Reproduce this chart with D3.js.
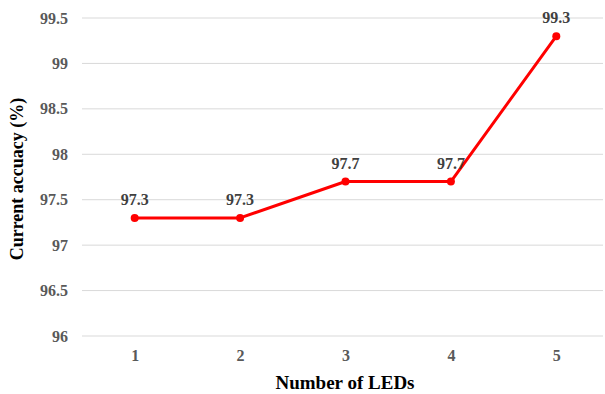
<!DOCTYPE html>
<html><head><meta charset="utf-8">
<script src="https://cdn.jsdelivr.net/npm/d3@7"></script>
<style>body{margin:0;background:#fff}svg{display:block}text{font-family:"Liberation Serif","Times New Roman",serif;font-weight:bold}</style>
</head><body><svg id="c" width="605" height="394"></svg>
<script>
const categories = ["1","2","3","4","5"];
const accuracy = [97.3, 97.3, 97.7, 97.7, 99.3];
const yTicks = [96, 96.5, 97, 97.5, 98, 98.5, 99, 99.5];
const yTickLabels = ["96","96.5","97","97.5","98","98.5","99","99.5"];

(function(){
const svg = d3.select("#c");
const mL = 82, mR = 609, mT = 18, mB = 336;
const x = d3.scalePoint().domain(categories).range([mL, mR]).padding(0.5);
const y = d3.scaleLinear().domain([96, 99.5]).range([mB, mT]);

svg.append("g").selectAll("line").data(yTicks).join("line")
  .attr("x1", mL).attr("x2", 603)
  .attr("y1", d => y(d)).attr("y2", d => y(d))
  .attr("stroke", "#d9d9d9").attr("stroke-width", 1);

const ya = svg.append("g").attr("transform", `translate(${mL},0)`)
  .call(d3.axisLeft(y).tickValues(yTicks).tickFormat((d,i) => yTickLabels[i]).tickSize(0).tickPadding(14));
ya.select(".domain").remove();
ya.selectAll("text").attr("font-size", 16).attr("fill", "#595959")
  .style("font-family", '"Liberation Serif",serif').style("font-weight", "bold");

const xa = svg.append("g").attr("transform", `translate(0,${mB})`)
  .call(d3.axisBottom(x).tickSize(0).tickPadding(14));
xa.select(".domain").remove();
xa.selectAll("text").attr("font-size", 16).attr("fill", "#595959")
  .style("font-family", '"Liberation Serif",serif').style("font-weight", "bold");

const line = d3.line().x((d,i) => x(categories[i])).y(d => y(d));
svg.append("path").datum(accuracy).attr("d", line)
  .attr("fill", "none").attr("stroke", "#ff0000").attr("stroke-width", 3).attr("stroke-linejoin", "round");
svg.selectAll("circle.pt").data(accuracy).join("circle").attr("class","pt")
  .attr("cx", (d,i) => x(categories[i])).attr("cy", d => y(d)).attr("r", 4).attr("fill", "#ff0000");
svg.selectAll("text.lbl").data(accuracy).join("text").attr("class","lbl")
  .attr("x", (d,i) => x(categories[i])).attr("y", d => y(d) - 13)
  .attr("text-anchor", "middle").attr("font-size", 16).attr("fill", "#404040")
  .text(d => d.toFixed(1));

svg.append("text").attr("transform", `translate(23,${(mT+mB)/2+2}) rotate(-90)`)
  .attr("text-anchor", "middle").attr("font-size", 18).attr("fill", "#000")
  .text("Current accuacy (%)");
svg.append("text").attr("x", 345).attr("y", 389).attr("text-anchor", "middle")
  .attr("font-size", 19).attr("fill", "#000").text("Number of LEDs");
})();
</script></body></html>
